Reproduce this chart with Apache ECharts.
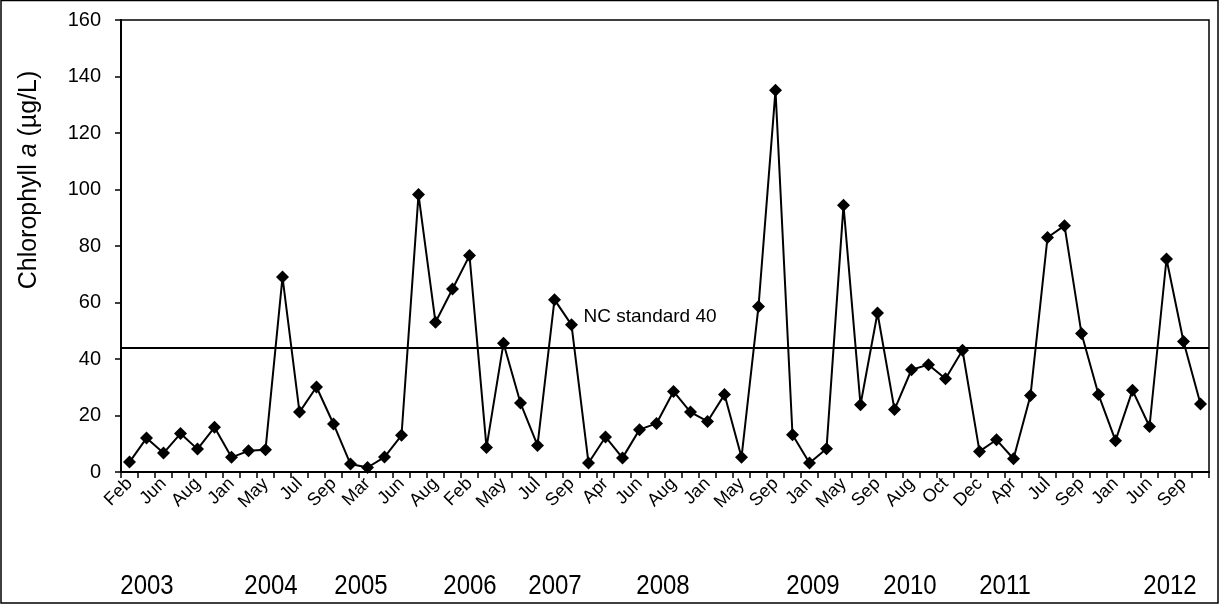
<!DOCTYPE html>
<html><head><meta charset="utf-8">
<script src="https://cdn.jsdelivr.net/npm/echarts@6/dist/echarts.min.js"></script>
<style>html,body{margin:0;padding:0;background:#fff}#c{width:1220px;height:604px}</style>
</head><body><div id="c"></div>
<script>
// ---- data ----
const months = [
 'Feb','Apr','Jun','Jul','Aug','Oct','Jan','Mar','May','Jun','Jul','Aug','Sep','Oct','Mar','May',
 'Jun','Jul','Aug','Sep','Feb','Apr','May','Jun','Jul','Aug','Sep','Oct','Apr','May','Jun','Jul',
 'Aug','Oct','Jan','Mar','May','Jul','Sep','Nov','Jan','Mar','May','Jul','Sep','Jun','Aug','Sep',
 'Oct','Nov','Dec','Feb','Apr','Jun','Jul','Aug','Sep','Oct','Jan','Apr','Jun','Aug','Sep','Oct'
];
const chla = [
 3.5,12.0,6.7,13.6,8.1,15.8,5.2,7.5,7.9,69.0,21.2,30.1,17.0,2.8,1.6,5.3,
 13.0,98.2,53.0,64.8,76.6,8.7,45.6,24.4,9.4,61.0,52.1,3.2,12.4,5.0,15.0,17.2,
 28.5,21.2,17.9,27.4,5.2,58.6,135.1,13.2,3.2,8.2,94.4,23.8,56.3,22.1,36.2,38.0,
 33.0,43.1,7.3,11.4,4.7,27.1,83.0,87.2,49.0,27.4,11.1,28.9,16.1,75.4,46.2,24.1
];
const years = ['2003','2004','2005','2006','2007','2008','2009','2010','2011','2012'];
const standardLevel = 44;
const standardText = 'NC standard 40';
const yMin = 0, yMax = 160, yStep = 20;

// ---- layout (pixels, not data) ----
const yearCenters = [147, 271, 361, 470, 555, 663, 813, 910, 1005, 1170];
const FONT = 'Liberation Sans, Arial, sans-serif';

const chart = echarts.init(document.getElementById('c'), null, {renderer: 'canvas'});
const option = {
  animation: false,
  backgroundColor: '#fff',
  grid: {left: 121, right: 11, top: 20, bottom: 132, show: true, borderColor: '#000', borderWidth: 1.5},
  xAxis: {
    type: 'category', data: months, boundaryGap: true,
    axisLine: {lineStyle: {color: '#000', width: 2}},
    axisTick: {show: true, interval: 0, length: 6, lineStyle: {color: '#000', width: 1.5}},
    axisLabel: {interval: 1, rotate: 45, color: '#000', fontSize: 18, fontFamily: FONT, margin: 9}
  },
  yAxis: {
    type: 'value', min: yMin, max: yMax, interval: yStep,
    splitLine: {show: false},
    axisLine: {show: true, lineStyle: {color: '#000', width: 2}},
    axisTick: {show: true, length: 6, lineStyle: {color: '#000', width: 1.5}},
    axisLabel: {color: '#000', fontSize: 20, fontFamily: FONT, margin: 20}
  },
  series: [{
    type: 'line', data: chla,
    symbol: 'diamond', symbolSize: 13, showAllSymbol: true,
    lineStyle: {color: '#000', width: 2},
    itemStyle: {color: '#000'},
    markLine: {
      silent: true, symbol: 'none',
      lineStyle: {color: '#000', width: 2, type: 'solid'},
      label: {show: false},
      data: [{yAxis: standardLevel}]
    },
    markPoint: {
      silent: true, symbol: 'circle', symbolSize: 0,
      data: [{coord: [26, 55.1], value: standardText}],
      label: {show: true, position: 'right', distance: 12, formatter: standardText,
              color: '#000', fontSize: 19, fontFamily: FONT}
    }
  }],
  graphic: [
    {type: 'rect', shape: {x: 1, y: 0.5, width: 1217, height: 602.5},
     style: {fill: 'none', stroke: '#000', lineWidth: 1.5}, z: 100},
    {type: 'text', x: 29, y: 180, rotation: Math.PI / 2,
     style: {
       text: '{n|Chlorophyll }{i|a}{n| (µg/L)}',
       rich: {n: {fontSize: 25, fontFamily: FONT, fill: '#000'},
              i: {fontSize: 25, fontFamily: FONT, fontStyle: 'italic', fill: '#000'}},
       textAlign: 'center', textVerticalAlign: 'middle', fill: '#000'
     }}
  ].concat(years.map((y, i) => ({
    type: 'text', x: yearCenters[i], y: 586, scaleY: 1.15,
    style: {text: y, fontSize: 24, fontFamily: FONT, fill: '#000', textAlign: 'center', textVerticalAlign: 'middle'}
  })))
};
chart.setOption(option);
</script>
</body></html>
